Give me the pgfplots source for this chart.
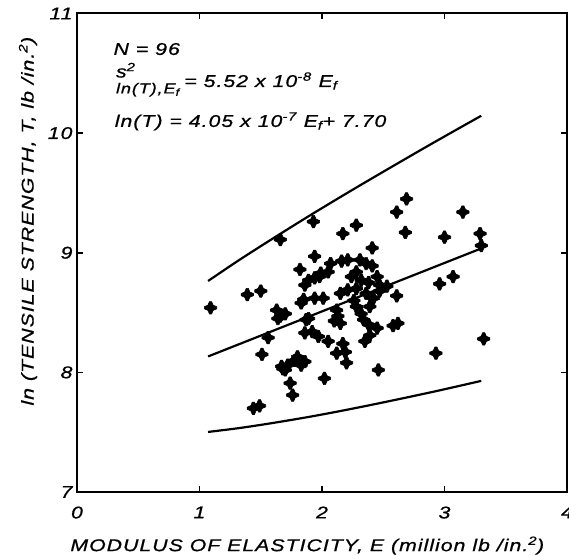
\documentclass[border=0pt]{standalone}
\usepackage{fontspec}
\setmainfont{Liberation Sans}
\newfontfamily\lettering{Liberation Sans}[FakeStretch=1.25, LetterSpace=6, FakeBold=0.8]
\usepackage{pgfplots}
\pgfplotsset{compat=1.18}

% hand-lettered look: wide oblique sans, slightly spaced
\newcommand{\lab}{\fontsize{17}{20}\selectfont\lettering\itshape}
\newcommand{\sublab}{\fontsize{14.5}{17}\selectfont\lettering\itshape}

% fat four-armed cross used for the specimens
\pgfdeclareplotmark{fatplus}{%
  \pgfpathmoveto{\pgfqpoint{0.17\pgfplotmarksize}{\pgfplotmarksize}}%
  \pgfpathlineto{\pgfqpoint{0.42\pgfplotmarksize}{0.42\pgfplotmarksize}}%
  \pgfpathlineto{\pgfqpoint{\pgfplotmarksize}{0.17\pgfplotmarksize}}%
  \pgfpathlineto{\pgfqpoint{\pgfplotmarksize}{-0.17\pgfplotmarksize}}%
  \pgfpathlineto{\pgfqpoint{0.42\pgfplotmarksize}{-0.42\pgfplotmarksize}}%
  \pgfpathlineto{\pgfqpoint{0.17\pgfplotmarksize}{-\pgfplotmarksize}}%
  \pgfpathlineto{\pgfqpoint{-0.17\pgfplotmarksize}{-\pgfplotmarksize}}%
  \pgfpathlineto{\pgfqpoint{-0.42\pgfplotmarksize}{-0.42\pgfplotmarksize}}%
  \pgfpathlineto{\pgfqpoint{-\pgfplotmarksize}{-0.17\pgfplotmarksize}}%
  \pgfpathlineto{\pgfqpoint{-\pgfplotmarksize}{0.17\pgfplotmarksize}}%
  \pgfpathlineto{\pgfqpoint{-0.42\pgfplotmarksize}{0.42\pgfplotmarksize}}%
  \pgfpathlineto{\pgfqpoint{-0.17\pgfplotmarksize}{\pgfplotmarksize}}%
  \pgfpathclose
  \pgfusepathqfillstroke}

% E (million lb/in.^2) and ln of tensile strength, 96 specimens
\pgfplotstableread{
E     lnT
1.09  8.54
1.39  8.65
1.50  8.68
1.56  8.29
1.51  8.15
1.44  7.70
1.49  7.72
1.66  9.11
1.93  9.26
2.28  9.23
2.17  9.16
2.41  9.04
2.61  9.34
2.69  9.45
2.68  9.17
3.15  9.34
3.00  9.13
3.29  9.16
3.30  9.06
2.96  8.74
3.07  8.80
3.32  8.28
2.93  8.16
2.61  8.64
2.58  8.39
2.62  8.41
2.46  8.02
1.74  7.91
1.76  7.81
2.02  7.95
1.63  8.52
1.66  8.47
1.70  8.49
1.64  8.45
1.67  8.05
1.70  8.02
1.72  8.06
1.68  8.03
1.80  8.13
1.83  8.06
1.86  8.09
1.78  8.10
1.94  8.97
1.82  8.86
2.07  8.91
2.16  8.93
2.21  8.94
2.05  8.84
2.31  8.94
2.36  8.91
2.41  8.89
2.28  8.84
2.45  8.80
1.89  8.77
1.94  8.79
1.98  8.80
1.86  8.73
2.32  8.77
2.38  8.75
2.47  8.73
2.53  8.72
1.94  8.62
2.01  8.62
2.15  8.66
2.21  8.69
2.28  8.70
2.36  8.66
1.83  8.58
1.85  8.61
1.89  8.45
2.12  8.52
2.13  8.47
2.28  8.55
2.32  8.49
2.39  8.55
2.15  8.41
2.34  8.44
2.38  8.40
2.45  8.37
1.86  8.33
1.92  8.34
1.97  8.30
2.05  8.26
2.17  8.24
2.35  8.26
2.12  8.16
2.19  8.17
2.20  8.08
1.87  8.44
2.10  8.43
2.24  8.80
2.42  8.62
2.26  8.60
1.99  8.83
2.39  8.31
2.47  8.68
}\specimens

\begin{document}
\begin{tikzpicture}
\begin{axis}[
  scale only axis,
  width=490pt, height=478.5pt,
  xmin=0, xmax=4, ymin=7, ymax=11,
  xtick={0,1,2,3,4}, ytick={7,8,9,10,11},
  tick align=inside,
  major tick length=6pt,
  axis line style={line width=2pt},
  every tick/.style={black, line width=1.6pt},
  /pgf/number format/assume math mode=true,
  tick label style={font=\lab},
  xticklabel style={yshift=-11pt},
  yticklabel style={xshift=-1pt},
  xlabel={MODULUS OF ELASTICITY, E (million lb /in.\textsuperscript{2})},
  ylabel={ln (TENSILE STRENGTH, T, lb /in.\textsuperscript{2})},
  label style={font=\lab},
  xlabel style={at={(axis description cs:0.47,-0.112)}, anchor=center},
  ylabel style={at={(axis description cs:-0.1,0.566)}, anchor=center},
  clip=false,
]
\coordinate (bl) at (rel axis cs:0,0);
\coordinate (tr) at (rel axis cs:1,1);

% upper and lower limits
\addplot[black, line width=2.2pt, smooth] coordinates {
  (1.07,8.764) (1.3,8.923) (1.5,9.055) (1.7,9.184) (1.9,9.311) (2.1,9.435)
  (2.3,9.557) (2.5,9.677) (2.7,9.796) (2.9,9.914) (3.1,10.030) (3.3,10.145)};
\addplot[black, line width=2.2pt, smooth] coordinates {
  (1.07,7.502) (1.3,7.531) (1.5,7.561) (1.7,7.594) (1.9,7.629) (2.1,7.667)
  (2.3,7.707) (2.5,7.749) (2.7,7.792) (2.9,7.836) (3.1,7.882) (3.3,7.929)};
% regression line ln(T) = 0.405 E + 7.70
\addplot[black, line width=2.2pt] coordinates {(1.07,8.133) (3.29,9.032)};

\addplot[only marks, mark=fatplus, mark size=6.2pt,
  mark options={black, fill=black, line width=0.6pt, line join=round}]
  table[x=E, y=lnT] {\specimens};

\node[font=\lab, anchor=base west] at (axis cs:0.27,10.654) {N = 96};
\node[font=\lab, anchor=base west] at (axis cs:0.29,10.386)
  {\rlap{\raisebox{9.5pt}{s\textsuperscript{2}}}\raisebox{-6.5pt}{\sublab ln(T),E\textsubscript{f}}\;= 5.52 x 10\textsuperscript{-8} E\textsubscript{f}};
\node[font=\lab, anchor=base west] at (axis cs:0.28,10.052)
  {ln(T) = 4.05 x 10\textsuperscript{-7} E\textsubscript{f}+ 7.70};
\end{axis}
\pgfresetboundingbox
\path ([shift={(-77pt,-63pt)}]bl) rectangle ([shift={(2pt,13.5pt)}]tr);
\end{tikzpicture}
\end{document}
